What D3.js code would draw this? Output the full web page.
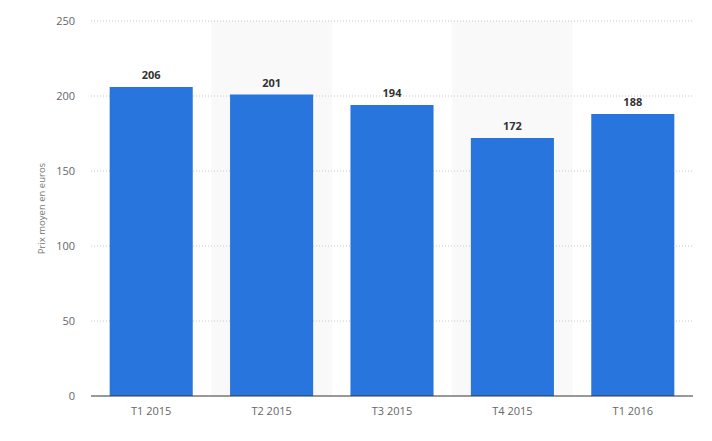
<!DOCTYPE html>
<html>
<head>
<meta charset="utf-8">
<script src="https://cdn.jsdelivr.net/npm/d3@7"></script>
<style>
body { margin: 0; background: #fff; }
text { font-family: "Open Sans", Roboto, sans-serif; }
</style>
</head>
<body>
<svg id="chart" width="712" height="441"></svg>
<script>
// data
const categories = ["T1 2015", "T2 2015", "T3 2015", "T4 2015", "T1 2016"];
const values = [206, 201, 194, 172, 188];
const yTicks = [0, 50, 100, 150, 200, 250];

const margin = { top: 21, right: 19, bottom: 45, left: 91 };
const width = 712 - margin.left - margin.right;
const height = 441 - margin.top - margin.bottom;

const svg = d3.select("#chart");
const g = svg.append("g").attr("transform", `translate(${margin.left},${margin.top})`);

const x = d3.scaleBand().domain(categories).range([0, width]).paddingInner(0.31).paddingOuter(0.155);
const y = d3.scaleLinear().domain([0, 250]).range([height, 0]);

// alternating background bands
const step = x.step();
g.selectAll("rect.band")
  .data(categories.filter((d, i) => i % 2 === 1))
  .join("rect")
  .attr("class", "band")
  .attr("x", d => x(d) - x.paddingInner() * step / 2)
  .attr("y", 0)
  .attr("width", step)
  .attr("height", height)
  .attr("fill", "#f9f9f9");

// grid
g.selectAll("line.grid")
  .data(yTicks.filter(d => d > 0))
  .join("line")
  .attr("class", "grid")
  .attr("x1", 0).attr("x2", width)
  .attr("y1", d => y(d)).attr("y2", d => y(d))
  .attr("stroke", "#c8c8c8")
  .attr("stroke-dasharray", "1,2");

// y axis labels
g.selectAll("text.ytick")
  .data(yTicks)
  .join("text")
  .attr("class", "ytick")
  .attr("x", -16)
  .attr("y", d => y(d))
  .attr("dy", "0.35em")
  .attr("text-anchor", "end")
  .attr("font-size", 11)
  .attr("fill", "#666")
  .text(d => d);

svg.append("text")
  .attr("transform", `translate(45,${margin.top + height / 2}) rotate(-90)`)
  .attr("text-anchor", "middle")
  .attr("font-size", 9.5)
  .attr("fill", "#777")
  .text("Prix moyen en euros");

// bars
g.selectAll("rect.bar")
  .data(values)
  .join("rect")
  .attr("class", "bar")
  .attr("x", (d, i) => x(categories[i]))
  .attr("y", d => y(d))
  .attr("width", x.bandwidth())
  .attr("height", d => height - y(d))
  .attr("fill", "#2876dd");

g.selectAll("text.val")
  .data(values)
  .join("text")
  .attr("class", "val")
  .attr("x", (d, i) => x(categories[i]) + x.bandwidth() / 2)
  .attr("y", d => y(d) - 8)
  .attr("text-anchor", "middle")
  .attr("font-size", 11)
  .attr("font-weight", "bold")
  .attr("fill", "#333")
  .text(d => d);

// x axis
g.append("line")
  .attr("x1", 0).attr("x2", width)
  .attr("y1", height).attr("y2", height)
  .attr("stroke", "#333");

g.selectAll("text.xtick")
  .data(categories)
  .join("text")
  .attr("class", "xtick")
  .attr("x", d => x(d) + x.bandwidth() / 2)
  .attr("y", height + 19)
  .attr("text-anchor", "middle")
  .attr("font-size", 11)
  .attr("fill", "#666")
  .text(d => d);
</script>
</body>
</html>
